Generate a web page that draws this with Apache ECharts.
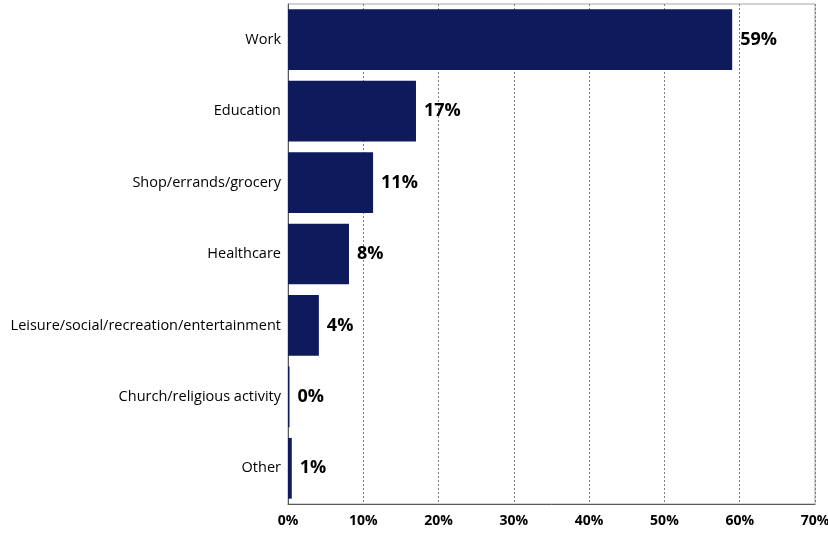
<!DOCTYPE html>
<html><head><meta charset="utf-8">
<script src="https://cdn.jsdelivr.net/npm/echarts@6/dist/echarts.min.js"></script>
<style>html,body{margin:0;padding:0;background:#fff;overflow:hidden}#c{width:828px;height:533px}</style>
</head><body><div id="c"></div>
<script>
const categories = ['Work','Education','Shop/errands/grocery','Healthcare','Leisure/social/recreation/entertainment','Church/religious activity','Other'];
const values = [59.0, 17.0, 11.3, 8.1, 4.1, 0.2, 0.5];
const tickLabels = ['0%','10%','20%','30%','40%','50%','60%','70%'];

const chart = echarts.init(document.getElementById('c'));
chart.setOption({
  animation:false,
  grid:{left:288,right:13,top:4,bottom:29,show:true,borderColor:'#a6a6a6',borderWidth:1,outerBoundsMode:'none',containLabel:false},
  xAxis:{type:'value',min:0,max:70,interval:10,
    axisLine:{show:true,lineStyle:{color:'#595959'}},
    axisTick:{show:false},
    splitLine:{show:true,lineStyle:{type:[2,2],color:'#7f7f7f'}},
    axisLabel:{formatter:(v)=>tickLabels[Math.round(v/10)],color:'#000',fontFamily:'Open Sans',fontWeight:'bold',fontSize:14,margin:10}},
  yAxis:{type:'category',inverse:true,data:categories,
    axisLine:{show:true,lineStyle:{color:'#595959'}},
    axisTick:{show:false},
    axisLabel:{color:'#000',fontFamily:'Open Sans',fontSize:14.5,margin:7}},
  series:[{type:'bar',data:values,barCategoryGap:'15%',
    itemStyle:{color:'#0f1a5c'},
    label:{show:true,position:'right',distance:8,formatter:(p)=>Math.round(p.value)+'%',
      color:'#000',fontFamily:'Open Sans',fontWeight:'bold',fontSize:18}}]
});
</script></body></html>
